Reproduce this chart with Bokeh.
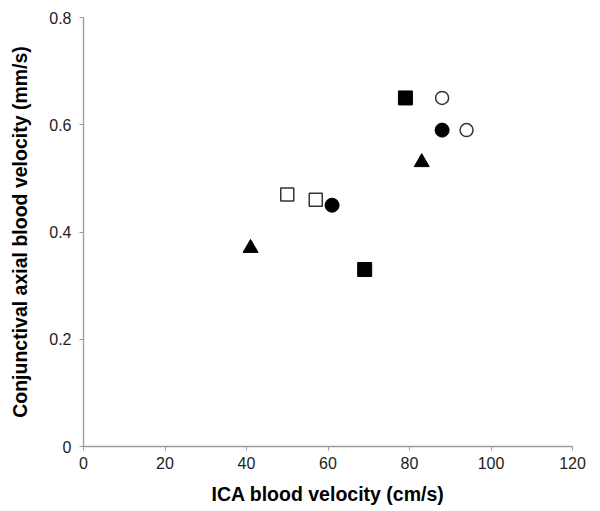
from bokeh.plotting import figure
from bokeh.models import FixedTicker, Range1d
from bokeh.embed import file_html
from bokeh.resources import INLINE

# Data (ICA blood velocity cm/s, conjunctival axial blood velocity mm/s)
filled_square_x = [79, 69]
filled_square_y = [0.65, 0.33]
open_circle_x = [88, 94]
open_circle_y = [0.65, 0.59]
filled_circle_x = [88, 61]
filled_circle_y = [0.59, 0.45]
triangle_x = [83, 41]
triangle_y = [0.53, 0.37]
open_square_x = [50, 57]
open_square_y = [0.47, 0.46]

x_ticks = [0, 20, 40, 60, 80, 100, 120]
y_ticks = [0, 0.2, 0.4, 0.6, 0.8]
y_tick_labels = {0: "0", 0.2: "0.2", 0.4: "0.4", 0.6: "0.6", 0.8: "0.8"}

p = figure(width=600, height=511, output_backend="svg", toolbar_location=None,
           x_range=Range1d(0, 120), y_range=Range1d(0, 0.8))
p.min_border_left = 83
p.min_border_right = 28
p.min_border_top = 17
p.min_border_bottom = 65
p.outline_line_color = None
p.xgrid.visible = False
p.ygrid.visible = False
p.background_fill_color = "white"
p.border_fill_color = "white"

FONT = "Liberation Sans"
for ax in (p.xaxis[0], p.yaxis[0]):
    ax.axis_line_color = "#9a9a9a"
    ax.axis_line_width = 1.3
    ax.major_tick_line_color = "#9a9a9a"
    ax.major_tick_in = 0
    ax.major_tick_out = 4
    ax.minor_tick_line_color = None
    ax.major_label_text_font = FONT
    ax.major_label_text_font_size = "16px"
    ax.major_label_text_color = "#222222"
    ax.axis_label_text_font = FONT
    ax.axis_label_text_font_size = "19.5px"
    ax.axis_label_text_font_style = "bold"
    ax.axis_label_text_color = "black"

p.xaxis.ticker = FixedTicker(ticks=x_ticks)
p.yaxis.ticker = FixedTicker(ticks=y_ticks)
p.yaxis.major_label_overrides = y_tick_labels
p.xaxis.axis_label = "ICA blood velocity (cm/s)"
p.yaxis.axis_label = "Conjunctival axial blood velocity (mm/s)"
p.xaxis.major_label_standoff = 6
p.xaxis.axis_label_standoff = 11
p.yaxis.major_label_standoff = 8
p.yaxis.axis_label_standoff = 15

p.scatter(filled_square_x, filled_square_y, marker="square", size=14,
          fill_color="black", line_color="black", line_width=1)
p.scatter(filled_circle_x, filled_circle_y, marker="circle", size=14,
          fill_color="black", line_color="black", line_width=1)
p.scatter(triangle_x, triangle_y, marker="triangle", size=15,
          fill_color="black", line_color="black", line_width=1)
p.scatter(open_square_x, open_square_y, marker="square", size=13,
          fill_color="white", line_color="#333333", line_width=1.5)
p.scatter(open_circle_x, open_circle_y, marker="circle", size=13,
          fill_color="white", line_color="#333333", line_width=1.5)

open("out.html", "w").write(file_html(p, INLINE))
